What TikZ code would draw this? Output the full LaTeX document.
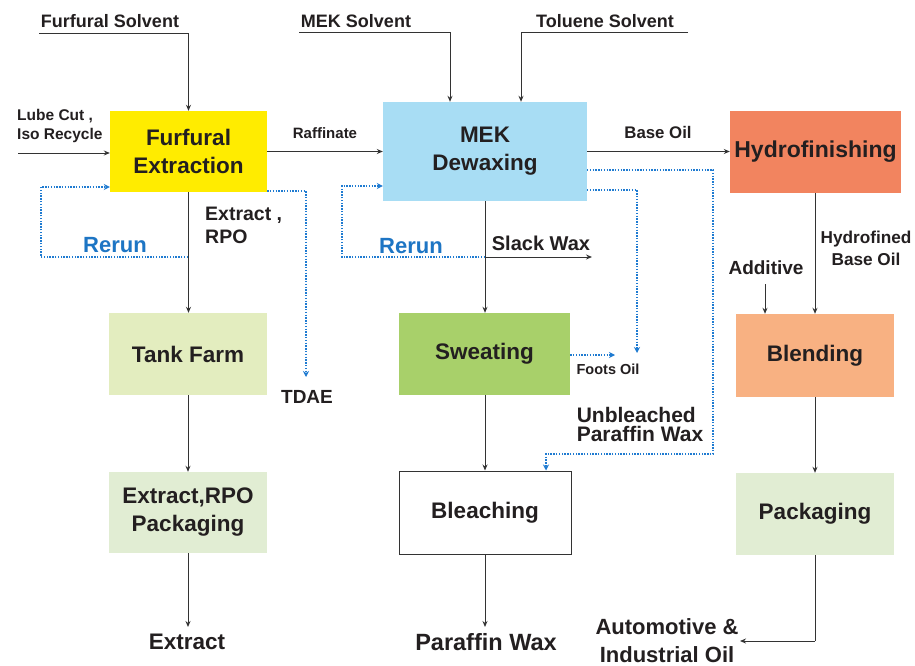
\documentclass[tikz,border=0pt]{standalone}
\usepackage{fontspec}
\setmainfont{Liberation Sans}
\usetikzlibrary{arrows.meta,calc}
\definecolor{txt}{HTML}{231F20}
\definecolor{ln}{HTML}{333333}
\definecolor{cyel}{HTML}{FFEC00}
\definecolor{cmek}{HTML}{A8DDF4}
\definecolor{chyd}{HTML}{F2845F}
\definecolor{ctank}{HTML}{E3EDBF}
\definecolor{csweat}{HTML}{A8D06A}
\definecolor{cblend}{HTML}{F8B182}
\definecolor{cpkg}{HTML}{E1EDD3}
\definecolor{dotb}{HTML}{1F7BD1}
\definecolor{rerunc}{HTML}{1D75C4}
\tikzset{
  box/.style={rectangle, inner sep=0pt, align=center, text=txt,
    font=\bfseries\fontsize{22.5}{28}\selectfont},
  lbl/.style={inner sep=0pt, align=center, text=txt, font=\bfseries\fontsize{18}{22}\selectfont},
  lblsm/.style={inner sep=0pt, align=center, text=txt, font=\bfseries\fontsize{14.5}{18}\selectfont},
  lblmd/.style={inner sep=0pt, align=center, text=txt, font=\bfseries\fontsize{19}{19}\selectfont},
  lblbig/.style={inner sep=0pt, align=center, text=txt, font=\bfseries\fontsize{22.5}{28}\selectfont},
  rerunlbl/.style={inner sep=0pt, text=rerunc, font=\bfseries\fontsize{22}{24}\selectfont},
  conn/.style={draw=ln, line width=1pt, -{Stealth[length=6pt,width=5pt]}},
  plain/.style={draw=ln, line width=1pt},
  dotconn/.style={draw=dotb, line width=1.7pt, dash pattern=on 1.4pt off 1.4pt, -{Stealth[length=6pt,width=6pt,fill=dotb]}},
}
\begin{document}
\begin{tikzpicture}[x=1pt,y=-1pt]
\useasboundingbox[fill=white] (0,0) rectangle (915,666);

% boxes
\node[box, fill=cyel, minimum width=157pt, minimum height=81pt] (furf) at (188.5,151.5) {Furfural\\Extraction};
\node[box, fill=cmek, minimum width=204pt, minimum height=99pt] (mek) at (485,151.5) {MEK\\Dewaxing};
\node[box, fill=chyd, minimum width=171pt, minimum height=82pt, font=\bfseries\fontsize{23}{28}\selectfont] (hyd) at (815.5,152) {Hydrofinishing};
\node[box, fill=ctank, minimum width=158pt, minimum height=82pt] (tank) at (188,354) {Tank Farm};
\node[box, fill=csweat, minimum width=171pt, minimum height=82pt] (sweat) at (484.5,354) {Sweating};
\node[box, fill=cblend, minimum width=158pt, minimum height=83pt] (blend) at (815,355.5) {Blending};
\node[box, fill=cpkg, minimum width=158pt, minimum height=81pt] (epkg) at (188,512.5) {Extract,RPO\\Packaging};
\node[box, fill=white, draw=ln, line width=1pt, minimum width=172pt, minimum height=83pt] (bleach) at (485,512.5) {Bleaching};
\node[box, fill=cpkg, minimum width=158pt, minimum height=82pt] (pkg) at (815,514) {Packaging};

% labels
\node[lbl] (fsol) at (110,21) {Furfural Solvent};
\node[lbl] (msol) at (356,21) {MEK Solvent};
\node[lbl] (tsol) at (605,21) {Toluene Solvent};
\node[lblsm, align=left, anchor=west, font=\bfseries\fontsize{15.5}{19}\selectfont] (lube) at (17,126) {Lube Cut ,\\Iso Recycle};
\node[lblsm, font=\bfseries\fontsize{15}{18}\selectfont] (raff) at (325,133) {Raffinate};
\node[lbl, font=\bfseries\fontsize{16.8}{20}\selectfont] (boil) at (658,132) {Base Oil};
\node[lblmd, align=left, anchor=west, font=\bfseries\fontsize{19.5}{23}\selectfont] (erpo) at (205,225) {Extract ,\\RPO};
\node[rerunlbl] (rr1) at (115,245) {Rerun};
\node[rerunlbl] (rr2) at (411,246) {Rerun};
\node[lblmd, font=\bfseries\fontsize{20}{20}\selectfont] (slack) at (541,243) {Slack Wax};
\node[lbl, font=\bfseries\fontsize{17.2}{22}\selectfont] (hbo) at (866,248) {Hydrofined\\Base Oil};
\node[lblmd] (add) at (766,268) {Additive};
\node[lblmd] (tdae) at (307,397) {TDAE};
\node[lblsm] (foots) at (608,369) {Foots Oil};
\node[lblmd, align=left, font=\bfseries\fontsize{21}{19}\selectfont] (unb) at (640,424) {Unbleached\\Paraffin Wax};
\node[lblbig] (extr) at (187,642) {Extract};
\node[lblbig, font=\bfseries\fontsize{23.5}{28}\selectfont] (pwax) at (486,642) {Paraffin Wax};
\node[lblbig, font=\bfseries\fontsize{22}{28}\selectfont] (auto) at (667,641) {Automotive \&\\Industrial Oil};

% coordinates
\coordinate (fsA) at (39,34);
\coordinate (msA) at (299,33);
\coordinate (msB) at (450,33);
\coordinate (tsA) at (688,33);
\coordinate (tsB) at (521,33);
\coordinate (lubeA) at (18,153);
\coordinate (rr1A) at (188,257);
\coordinate (rr1B) at (41,257);
\coordinate (rr1C) at (41,187);
\coordinate (tdA) at (306,191);
\coordinate (tdB) at (306,377);
\coordinate (exEnd) at (188,627);
\coordinate (swA) at (485,257);
\coordinate (swEnd) at (592,257);
\coordinate (rr2B) at (342,257);
\coordinate (rr2C) at (342,186);
\coordinate (inA) at (587,190);
\coordinate (inB) at (637,190);
\coordinate (inC) at (637,353);
\coordinate (ftEnd) at (615,355);
\coordinate (ouA) at (587,170);
\coordinate (ouB) at (713,170);
\coordinate (ouC) at (713,454);
\coordinate (ouD) at (546,454);
\coordinate (pwEnd) at (485,627);
\coordinate (adA) at (765,284);
\coordinate (pkB) at (815,641);
\coordinate (auEnd) at (740,641);

% solid connectors
\draw[conn] (fsA) -| (furf.north);
\draw[conn] (msA) -- (msB) -- (msB |- mek.north);
\draw[conn] (tsA) -- (tsB) -- (tsB |- mek.north);
\draw[conn] (lubeA) -- (lubeA -| furf.west);
\draw[conn] (furf.east) -- (mek.west);
\draw[conn] (mek.east) -- (mek.east -| hyd.west);
\draw[conn] (furf.south) -- (furf.south |- tank.north);
\draw[conn] (tank.south) -- (epkg.north);
\draw[conn] (epkg.south) -- (exEnd);
\draw[conn] (mek.south) -- (mek.south |- sweat.north);
\draw[conn] (swA) -- (swEnd);
\draw[conn] (sweat.south -| mek.south) -- (bleach.north);
\draw[conn] (bleach.south) -- (pwEnd);
\draw[conn] (hyd.south -| blend.north) -- (blend.north);
\draw[conn] (adA) -- (adA |- blend.north);
\draw[conn] (blend.south) -- (pkg.north);
\draw[plain] (pkg.south) -- (pkB);
\draw[conn] (pkB) -- (auEnd);

% dotted connectors
\draw[dotconn] (rr1A) -- (rr1B) -- (rr1C) -- (rr1C -| furf.west);
\draw[dotconn] (tdA -| furf.east) -- (tdA) -- (tdB);
\draw[dotconn] (swA) -- (rr2B) -- (rr2C) -- (rr2C -| mek.west);
\draw[dotconn] (inA) -- (inB) -- (inC);
\draw[dotconn] (sweat.east |- ftEnd) -- (ftEnd);
\draw[dotconn] (ouA) -- (ouB) -- (ouC) -- (ouD) -- (ouD |- bleach.north);
\end{tikzpicture}
\end{document}
